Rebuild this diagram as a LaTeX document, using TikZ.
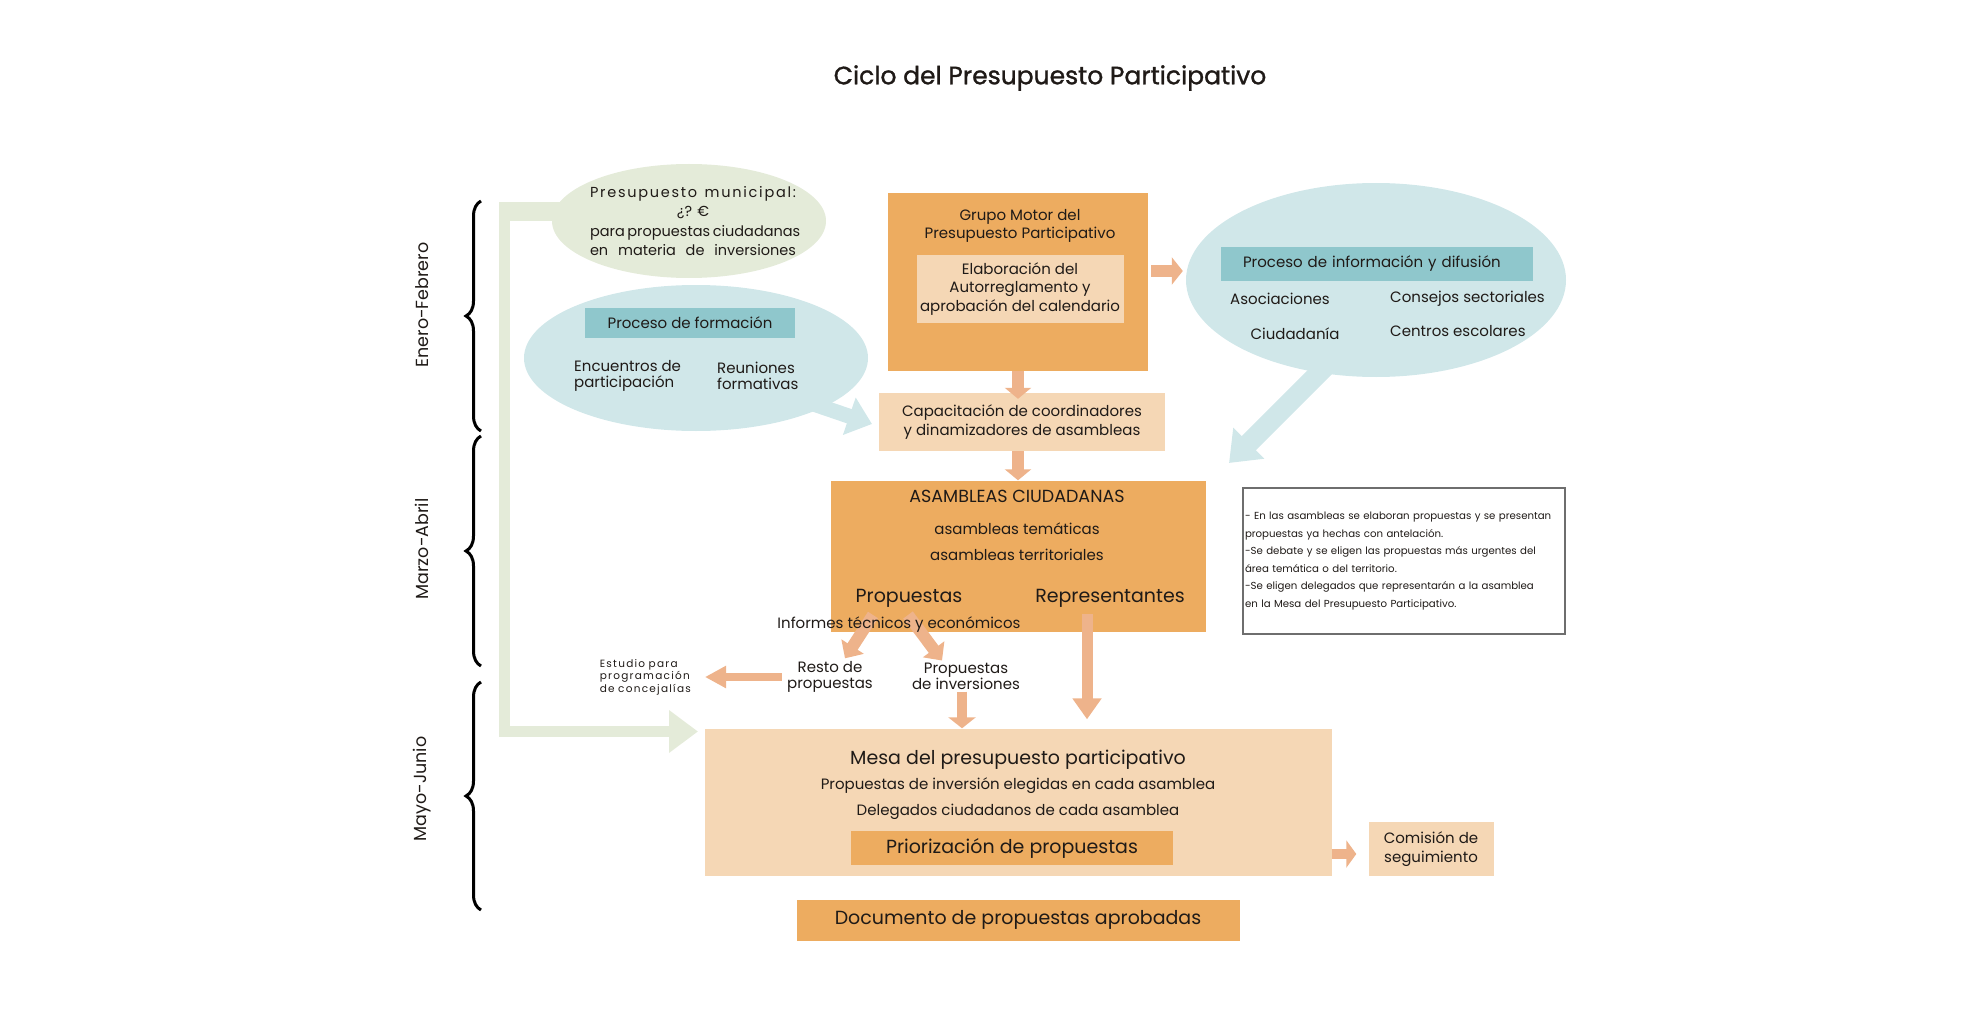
\documentclass[tikz,border=0pt]{standalone}
\usepackage{fontspec}
\setmainfont{Poppins}
\newfontfamily\titlefont{Poppins}[FakeBold=1.2]
\newfontfamily\spacedfont{Poppins}[LetterSpace=12]
\usetikzlibrary{arrows.meta,shapes.geometric,decorations.pathreplacing,backgrounds}
\definecolor{gmorange}{HTML}{EDAC60}
\definecolor{gmpeach}{HTML}{F5D7B5}
\definecolor{gmsalmon}{HTML}{EEB38B}
\definecolor{gmblue}{HTML}{D0E7E9}
\definecolor{gmteal}{HTML}{8FC7CC}
\definecolor{gmgreen}{HTML}{E4EBD9}
\definecolor{gmgray}{HTML}{6E6E6E}
\definecolor{gmtext}{HTML}{1F1A17}
\newcommand\txtnormal{\fontsize{15}{19.5}\selectfont}
\newcommand\txtbig{\fontsize{19}{22}\selectfont}
\newcommand\txtnote{\fontsize{10.2}{17.5}\selectfont\hyphenpenalty=10000}

\begin{document}
\begin{tikzpicture}[x=1pt,y=-1pt,
  every node/.style={inner sep=0pt,text=gmtext,font=\txtnormal},
  orangebox/.style={fill=gmorange,align=center},
  peachbox/.style={fill=gmpeach,align=center},
  tealbar/.style={fill=gmteal},
  bubble/.style={ellipse,fill=gmblue},
  salarrow/.style={draw=gmsalmon,line width=12pt,-{Triangle[length=11pt,width=26pt]}},
  monthbrace/.style={decorate,decoration={brace,amplitude=15pt},line width=3pt},
  monthlabel/.style={rotate=90,font=\fontsize{17.5}{20}\selectfont}]
  \useasboundingbox (0,0) rectangle (1969,1024);

  \node[font=\titlefont\fontsize{25}{30}\selectfont] (title) at (1050,78) {Ciclo del Presupuesto Participativo};

  % meses
  \node[monthlabel] (ene) at (422,305) {Enero-Febrero};
  \node[monthlabel] (mar) at (422,549) {Marzo-Abril};
  \node[monthlabel] (may) at (422,789) {Mayo-Junio};
  \foreach \ya/\yb in {431/201,666/436,910/682}
    \draw[monthbrace] (481,\ya) -- (481,\yb);

  % presupuesto municipal
  \node[ellipse,fill=gmgreen,minimum width=274pt,minimum height=114pt] (presup) at (689,221) {};
  \node[align=center,font=\fontsize{14.5}{19.5}\selectfont] (presuptxt) at (693,221)
    {{\spacedfont\makebox[206pt][s]{Presupuesto municipal:}}\\¿? €\\
     \makebox[206pt][s]{para propuestas ciudadanas}\\\makebox[206pt][s]{en materia de inversiones}};

  % proceso de formacion
  \node[bubble,minimum width=344pt,minimum height=146pt] (form) at (696,358) {};
  \node[tealbar,minimum width=210pt,minimum height=30pt] (formbar) at (690,323) {Proceso de formación};
  \node[anchor=west,align=left,font=\fontsize{15}{16}\selectfont] (encuen) at (574,376) {Encuentros de\\participación};
  \node[anchor=west,align=left,font=\fontsize{15}{16}\selectfont] (reun) at (717,376) {Reuniones\\formativas};

  % grupo motor
  \node[orangebox,minimum width=260pt,minimum height=177pt] (grupo) at (1018,282) {};
  \node[align=center,font=\fontsize{15}{18}\selectfont] (grupotxt) at (1020,226) {Grupo Motor del\\Presupuesto Participativo};
  \node[peachbox,minimum width=207pt,minimum height=68pt,font=\fontsize{15}{18.5}\selectfont] (autoreg) at (1020,289)
    {Elaboración del\\Autorreglamento y\\aprobación del calendario};

  % informacion y difusion
  \node[bubble,minimum width=380pt,minimum height=194pt] (info) at (1376,280) {};
  \node[tealbar,minimum width=312pt,minimum height=34pt,text width=268pt,inner xsep=22pt,align=left] (infobar) at (1377,264)
    {Proceso de información y difusión};
  \node (asoc) at (1280,299) {Asociaciones};
  \node[anchor=west] (consej) at (1390,299) {Consejos sectoriales};
  \node (ciudad) at (1295,334) {Ciudadanía};
  \node[anchor=west] (centros) at (1390,331) {Centros escolares};

  % capacitacion
  \node[peachbox,minimum width=286pt,minimum height=58pt] (capac) at (1022,422)
    {Capacitación de coordinadores\\y dinamizadores de asambleas};

  % asambleas
  \node[orangebox,minimum width=375pt,minimum height=151pt] (asamb) at (1018,556) {};
  \node[font=\fontsize{17.5}{20}\selectfont] (asambtit) at (1017,496) {ASAMBLEAS CIUDADANAS};
  \node (temat) at (1017,529) {asambleas temáticas};
  \node (territ) at (1017,555) {asambleas territoriales};
  \node[font=\txtbig] (prop) at (909,598) {Propuestas};
  \node[font=\txtbig] (repr) at (1110,598) {Representantes};

  \node[align=center,font=\fontsize{15}{16}\selectfont] (resto) at (830,677) {Resto de\\propuestas};
  \node[align=center,font=\fontsize{15}{16}\selectfont] (propinv) at (966,676) {Propuestas\\de inversiones};
  \node[anchor=east,text width=89pt,align=left,font={\spacedfont\fontsize{10.5}{12.5}\selectfont}] (estudio) at (689,677)
    {\makebox[\linewidth][s]{Estudio para}\\\makebox[\linewidth][s]{programación}\\\makebox[\linewidth][s]{de concejalías}};

  % mesa
  \node[peachbox,minimum width=627pt,minimum height=147pt] (mesa) at (1018,802) {};
  \node[font=\txtbig] (mesatit) at (1018,760) {Mesa del presupuesto participativo};
  \node (eleg) at (1018,786) {Propuestas de inversión elegidas en cada asamblea};
  \node (deleg) at (1018,812) {Delegados ciudadanos de cada asamblea};
  \node[orangebox,minimum width=322pt,minimum height=34pt,font=\txtbig] (prior) at (1012,848) {Priorización de propuestas};
  \node[peachbox,minimum width=125pt,minimum height=54pt,font=\fontsize{15}{19}\selectfont] (comis) at (1431,849) {Comisión de\\seguimiento};
  \node[orangebox,minimum width=443pt,minimum height=41pt,font=\txtbig] (docu) at (1018,920) {Documento de propuestas aprobadas};

  % notas
  \node[draw=gmgray,line width=1.2pt,minimum width=322pt,minimum height=146pt,text width=318pt,inner xsep=2pt,align=left,font=\txtnote] (notas) at (1404,561)
    {- En las asambleas se elaboran propuestas y se presentan\\
     propuestas ya hechas con antelación.\\
     -Se debate y se eligen las propuestas más urgentes del\\
     área temática o del territorio.\\
     -Se eligen delegados que representarán a la asamblea\\
     en la Mesa del Presupuesto Participativo.};

  % flechas
  \coordinate (gm) at ([yshift=11pt]grupo.east);
  \draw[salarrow,-{Triangle[length=11pt,width=27pt]},shorten <=3pt,shorten >=3pt] (gm) -- (gm -| info.west);
  \draw[salarrow,shorten >=-6pt] (grupo.south) -- (grupo.south |- capac.north);
  \coordinate (cs) at ([xshift=-4pt]capac.south);
  \draw[salarrow] (cs) -- (cs |- asamb.north);
  \draw[salarrow,-{Triangle[length=14pt,width=26pt]}] ([xshift=-36pt,yshift=-17pt]prop.center) -- ([xshift=15pt,yshift=3pt]resto.north);
  \draw[salarrow,-{Triangle[length=14pt,width=26pt]}] ([xshift=-1pt,yshift=-17pt]prop.center) -- ([xshift=-24pt,yshift=2pt]propinv.north);
  \node (informes) at (899,625) {Informes técnicos y económicos};
  \draw[salarrow,line width=8pt,-{Triangle[length=21pt,width=21pt]},shorten <=5pt,shorten >=16pt] (resto.west) -- (estudio.east);
  \coordinate (pi) at ([xshift=-4pt]propinv.south);
  \draw[salarrow,line width=10pt,-{Triangle[length=11pt,width=27pt]},shorten <=2pt] (pi) -- (pi |- mesa.north);
  \coordinate (rp) at ([xshift=-23pt,yshift=-16pt]repr.center);
  \draw[salarrow,line width=11pt,-{Triangle[length=21pt,width=28pt]},shorten >=9pt] (rp) -- (rp |- mesa.north);
  \coordinate (cw) at ([yshift=-5pt]comis.west);
  \draw[salarrow,line width=10pt,-{Triangle[length=10pt,width=27pt]},shorten >=12pt] (cw -| mesa.east) -- (cw);

  % fondo: barra verde y punteros
  \coordinate (gtop) at (504.5,202);
  \coordinate (gtip) at (698,731.5);
  \coordinate (formfoot) at (790,396);
  \coordinate (formtip) at (872,424);
  \coordinate (infofoot) at (1340,352);
  \coordinate (infotip) at (1229,463);
  \begin{scope}[on background layer]
    \fill[gmgreen] (499,202) rectangle (presup.center);
    \draw[gmgreen,line width=11.5pt,line join=miter,-{Triangle[length=29pt,width=41pt]}] (gtop) |- (gtip);
    \draw[gmblue,line width=15pt,-{Triangle[length=24pt,width=38pt]}] (formfoot) -- (formtip);
    \draw[gmblue,line width=20pt,-{Triangle[length=28pt,width=42pt]}] (infofoot) -- (infotip);
  \end{scope}
\end{tikzpicture}
\end{document}
